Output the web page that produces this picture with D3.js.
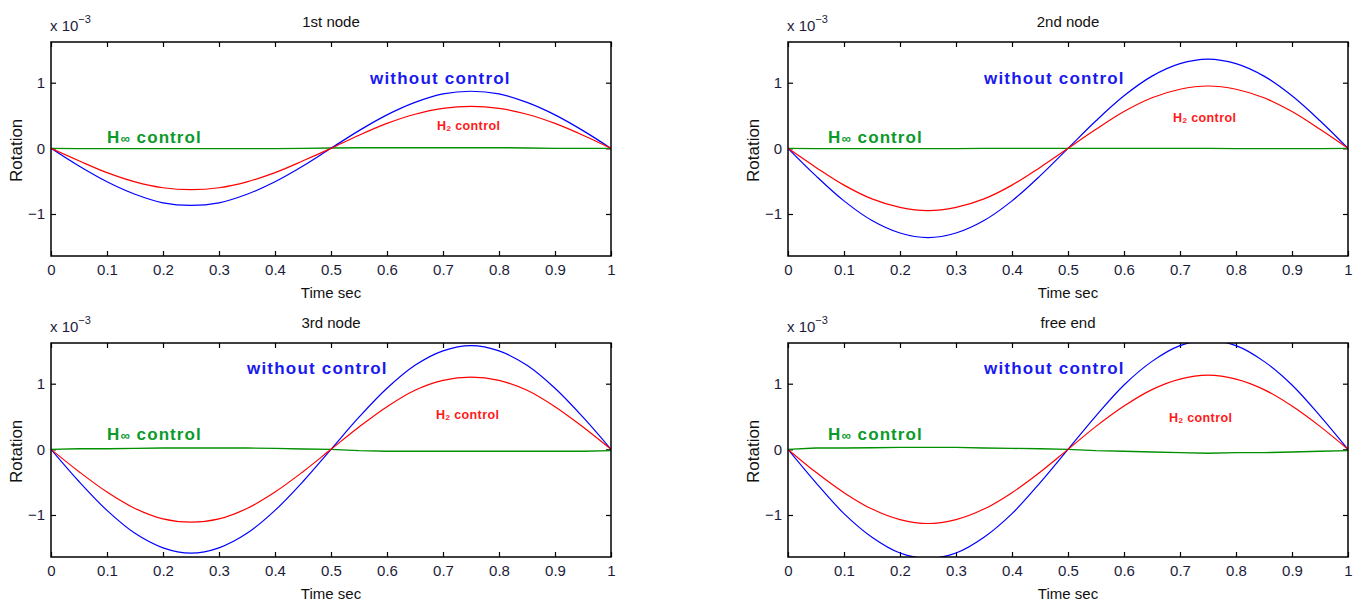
<!DOCTYPE html>
<html>
<head>
<meta charset="utf-8">
<script src="https://cdn.jsdelivr.net/npm/d3@7/dist/d3.min.js"></script>
<style>
  html, body { margin: 0; padding: 0; background: #fff; }
  svg { display: block; }
  text { font-family: "Liberation Sans", Arial, sans-serif; }
</style>
</head>
<body>
<svg id="chart" width="1359" height="604"></svg>
<script>
// ---- data (rotation values in units of 1e-3) ----
const times = [0, 0.05, 0.1, 0.15, 0.2, 0.25, 0.3, 0.35, 0.4, 0.45, 0.5,
               0.55, 0.6, 0.65, 0.7, 0.75, 0.8, 0.85, 0.9, 0.95, 1];
const panelTitles = ["1st node", "2nd node", "3rd node", "free end"];
const xTicks = [0, 0.1, 0.2, 0.3, 0.4, 0.5, 0.6, 0.7, 0.8, 0.9, 1];
const yTicks = [-1, 0, 1];
const seriesNames = ["without control", "H2 control", "H\u221e control"];

const withoutNode1 = [0, -0.27, -0.51, -0.70, -0.83, -0.87, -0.83, -0.70, -0.51, -0.27, 0,
                      0.27, 0.51, 0.70, 0.83, 0.87, 0.83, 0.70, 0.51, 0.27, 0];
const h2Node1      = [0, -0.19, -0.37, -0.51, -0.60, -0.63, -0.60, -0.51, -0.37, -0.19, 0,
                      0.20, 0.38, 0.52, 0.61, 0.64, 0.61, 0.52, 0.38, 0.20, 0];
const hinfNode1    = [0, -0.005, -0.005, -0.005, -0.005, -0.005, -0.005, -0.005, -0.005, 0, 0.005,
                      0.01, 0.01, 0.01, 0.01, 0.01, 0.01, 0.005, 0, 0, 0];

const withoutNode2 = [0, -0.42, -0.80, -1.10, -1.29, -1.36, -1.29, -1.10, -0.80, -0.42, 0,
                      0.42, 0.80, 1.10, 1.29, 1.36, 1.29, 1.10, 0.80, 0.42, 0];
const h2Node2      = [0, -0.29, -0.56, -0.77, -0.90, -0.95, -0.90, -0.77, -0.56, -0.29, 0,
                      0.29, 0.56, 0.77, 0.90, 0.95, 0.90, 0.77, 0.56, 0.29, 0];
const hinfNode2    = [0, -0.005, -0.005, -0.005, -0.005, -0.005, -0.005, 0, 0, 0, 0,
                      0, 0, 0, 0, 0, -0.005, -0.005, -0.005, -0.005, 0];

const withoutNode3 = [0, -0.49, -0.93, -1.28, -1.50, -1.58, -1.50, -1.28, -0.93, -0.49, 0,
                      0.49, 0.93, 1.28, 1.50, 1.58, 1.50, 1.28, 0.93, 0.49, 0];
const h2Node3      = [0, -0.34, -0.65, -0.90, -1.06, -1.11, -1.06, -0.90, -0.65, -0.34, 0,
                      0.34, 0.65, 0.90, 1.05, 1.10, 1.05, 0.90, 0.65, 0.34, 0];
const hinfNode3    = [0, 0.01, 0.01, 0.015, 0.02, 0.02, 0.02, 0.02, 0.015, 0.005, 0,
                      -0.02, -0.03, -0.03, -0.03, -0.03, -0.03, -0.03, -0.03, -0.03, -0.02];

const withoutFree  = [0, -0.51, -0.98, -1.34, -1.58, -1.66, -1.58, -1.34, -0.98, -0.51, 0,
                      0.51, 0.98, 1.34, 1.58, 1.66, 1.58, 1.34, 0.98, 0.51, 0];
const h2Free       = [0, -0.35, -0.66, -0.91, -1.07, -1.13, -1.07, -0.91, -0.66, -0.35, 0,
                      0.35, 0.66, 0.91, 1.07, 1.13, 1.07, 0.91, 0.66, 0.35, 0];
const hinfFree     = [0, 0.02, 0.02, 0.025, 0.03, 0.03, 0.03, 0.02, 0.015, 0.01, 0,
                      -0.02, -0.03, -0.04, -0.05, -0.06, -0.05, -0.05, -0.04, -0.03, -0.02];

const withoutAll = [withoutNode1, withoutNode2, withoutNode3, withoutFree];
const h2All      = [h2Node1, h2Node2, h2Node3, h2Free];
const hinfAll    = [hinfNode1, hinfNode2, hinfNode3, hinfFree];

// ---- layout ----
const svg = d3.select("#chart");
const panelW = 560, panelH = 214;
const lefts = [51, 788], tops = [42, 343];
const colBlue = "#0000ff", colRed = "#ff0000", colGreen = "#009000";
const txtBlue = "#1a1aee", txtRed = "#ff1a1a", txtGreen = "#0a9a2a";

// label positions (pixel offsets inside panel) for annotations
const labelPos = [
  { wo: [319, 42], h2: [386, 88], hi: [56, 101] },
  { wo: [196, 42], h2: [385, 80], hi: [40, 101] },
  { wo: [196, 31], h2: [385, 76], hi: [56, 97] },
  { wo: [196, 31], h2: [381, 79], hi: [40, 97] }
];

panelTitles.forEach((title, i) => {
  const col = i % 2, row = Math.floor(i / 2);
  const x0 = lefts[col], y0 = tops[row];
  const g = svg.append("g").attr("transform", `translate(${x0},${y0})`);

  const x = d3.scaleLinear().domain([0, 1]).range([0, panelW]);
  const y = d3.scaleLinear().domain([-1.64, 1.62]).range([panelH, 0]);

  const clipId = "clip" + i;
  g.append("clipPath").attr("id", clipId)
    .append("rect").attr("x", 0).attr("y", 0).attr("width", panelW).attr("height", panelH);

  // axes with inward ticks (box style)
  const tk = 5;
  const xb = g.append("g").attr("transform", `translate(0,${panelH})`)
    .call(d3.axisBottom(x).tickValues(xTicks).tickSizeInner(-tk).tickSizeOuter(0).tickPadding(8)
      .tickFormat(d => d === 0 ? "0" : d === 1 ? "1" : d3.format(".1f")(d)));
  const xt = g.append("g")
    .call(d3.axisTop(x).tickValues(xTicks).tickSizeInner(-tk).tickSizeOuter(0).tickFormat(""));
  const yl = g.append("g")
    .call(d3.axisLeft(y).tickValues(yTicks).tickSizeInner(-tk).tickSizeOuter(0).tickPadding(6)
      .tickFormat(d => d < 0 ? "\u22121" : String(d)));
  const yr = g.append("g").attr("transform", `translate(${panelW},0)`)
    .call(d3.axisRight(y).tickValues(yTicks).tickSizeInner(-tk).tickSizeOuter(0).tickFormat(""));
  [xb, xt, yl, yr].forEach(a => {
    a.select(".domain").remove();
    a.selectAll(".tick line").attr("stroke", "#000").attr("stroke-width", 1.2);
    a.selectAll(".tick text").attr("fill", "#1c1c3a").attr("font-size", 15)
      .attr("font-family", "'Liberation Sans', Arial, sans-serif");
  });

  // curves
  const lineSmooth = d3.line().x((d, k) => x(times[k])).y(d => y(d)).curve(d3.curveCatmullRom);
  const lineLin = d3.line().x((d, k) => x(times[k])).y(d => y(d));
  const cg = g.append("g").attr("clip-path", `url(#${clipId})`);
  cg.append("path").attr("d", lineLin(hinfAll[i])).attr("fill", "none")
    .attr("stroke", colGreen).attr("stroke-width", 1.4);
  cg.append("path").attr("d", lineSmooth(withoutAll[i])).attr("fill", "none")
    .attr("stroke", colBlue).attr("stroke-width", 1.2);
  cg.append("path").attr("d", lineSmooth(h2All[i])).attr("fill", "none")
    .attr("stroke", colRed).attr("stroke-width", 1.2);

  // frame
  g.append("rect").attr("x", 0).attr("y", 0).attr("width", panelW).attr("height", panelH)
    .attr("fill", "none").attr("stroke", "#000").attr("stroke-width", 1.5);

  // titles & labels
  g.append("text").attr("x", panelW / 2).attr("y", -15).attr("text-anchor", "middle")
    .attr("font-size", 15).attr("fill", "#111").text(title);
  const ex = g.append("text").attr("x", -1).attr("y", -11).attr("font-size", 15).attr("fill", "#1c1c3a");
  ex.append("tspan").text("x 10");
  ex.append("tspan").attr("dy", -8).attr("font-size", 11).text("\u22123");
  g.append("text").attr("x", panelW / 2).attr("y", panelH + 42).attr("text-anchor", "middle")
    .attr("font-size", 15).attr("fill", "#111").text("Time sec");
  g.append("text").attr("transform", `translate(${-29},${y(0) + 2}) rotate(-90)`)
    .attr("text-anchor", "middle").attr("font-size", 17).attr("fill", "#111").text("Rotation");

  // annotations
  const lp = labelPos[i];
  g.append("text").attr("x", lp.wo[0]).attr("y", lp.wo[1]).attr("font-size", 17)
    .attr("font-weight", "bold").attr("letter-spacing", 1.2).attr("fill", txtBlue).text(seriesNames[0]);
  const h2t = g.append("text").attr("x", lp.h2[0]).attr("y", lp.h2[1]).attr("font-size", 12.5)
    .attr("font-weight", "bold").attr("letter-spacing", 0.4).attr("fill", txtRed);
  h2t.append("tspan").text("H");
  h2t.append("tspan").attr("font-size", 8).attr("dy", 1).text("2");
  h2t.append("tspan").attr("dy", -1).text(" control");
  const hit = g.append("text").attr("x", lp.hi[0]).attr("y", lp.hi[1]).attr("font-size", 17)
    .attr("font-weight", "bold").attr("letter-spacing", 1.1).attr("fill", txtGreen);
  hit.append("tspan").text("H");
  hit.append("tspan").attr("font-size", 13).text("\u221e");
  hit.append("tspan").text(" control");
});
</script>
</body>
</html>
